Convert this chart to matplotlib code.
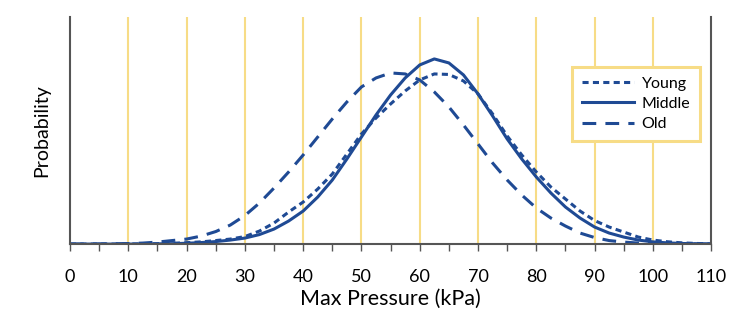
import matplotlib
matplotlib.use("Agg")
import matplotlib.pyplot as plt
import numpy as np

plt.rcParams['font.family'] = ['Lato', 'DejaVu Sans']

# max pressure (kPa), read every 2.5 kPa
pressure = np.arange(0, 110.1, 2.5)

# relative probability (arbitrary units)
young = [0, 0, 0, 0, 0.1, 0.2, 0.4, 0.8, 1.4, 2.2, 3.5, 5, 7.5, 13, 21, 32, 42,
         55, 70, 90, 110, 126, 140, 153, 164, 170, 169.5, 163, 150, 130, 108,
         89, 72, 57, 45, 33, 23.5, 17, 12, 7, 4, 2.3, 1.2, 0.6, 0.3]
middle = [0, 0, 0, 0, 0, 0.1, 0.2, 0.4, 0.8, 1.5, 2.5, 4, 6, 9.5, 15, 23, 33,
          47, 64, 85, 107, 129, 149, 166, 179, 185, 181, 169, 150, 128, 105,
          85, 67, 51, 37, 26, 17, 11, 7, 4, 2.2, 1.2, 0.6, 0.3, 0.1]
old = [0, 0, 0.1, 0.3, 0.5, 1, 2, 3.5, 5, 8, 12.5, 19, 28.5, 41, 56, 72, 89,
       107, 125, 142, 157, 166, 171, 170, 164, 152, 137, 119, 100, 81, 64, 49,
       36, 26, 18, 11, 6.5, 3.5, 2, 1, 0.5, 0.2, 0.1, 0, 0]

blue = "#1f4a94"
gold = "#f7dc86"
grey = "#555555"

fig = plt.figure(figsize=(7.5, 3.25), dpi=100)
ax = fig.add_axes([0.0933, 0.249, 0.855, 0.699])

for v in range(10, 101, 10):
    ax.axvline(v, color=gold, lw=1.5, zorder=0)

ax.plot(pressure, young, color=blue, lw=2.2, ls=(0, (2, 1.4)), label="Young")
ax.plot(pressure, middle, color=blue, lw=2.2, ls="-", label="Middle")
ax.plot(pressure, old, color=blue, lw=2.2, ls=(0, (4.5, 3)), label="Old")

ax.set_xlim(0, 110)
ax.set_ylim(0, 227)
ax.set_xticks(range(0, 111, 10))
ax.set_xticks(range(5, 110, 10), minor=True)
ax.set_yticks([])
ax.tick_params(axis="x", which="both", direction="out", length=5, width=1,
               color=grey, labelsize=13, pad=13)
ax.spines["top"].set_visible(False)
for s in ["left", "right", "bottom"]:
    ax.spines[s].set_color(grey)
    ax.spines[s].set_linewidth(1.5)

ax.set_xlabel("Max Pressure (kPa)", fontsize=15.5, labelpad=3)
ax.set_ylabel("Probability", fontsize=14, labelpad=14)

leg = ax.legend(loc="upper left", bbox_to_anchor=(0.783, 0.78), fontsize=11.5,
                handlelength=3.3, handletextpad=0.45, labelspacing=0.38,
                fancybox=False, framealpha=1, borderpad=0.6,
                borderaxespad=0)
leg.get_frame().set_edgecolor(gold)
leg.get_frame().set_linewidth(2.2)

fig.savefig("out.png", dpi=100)
